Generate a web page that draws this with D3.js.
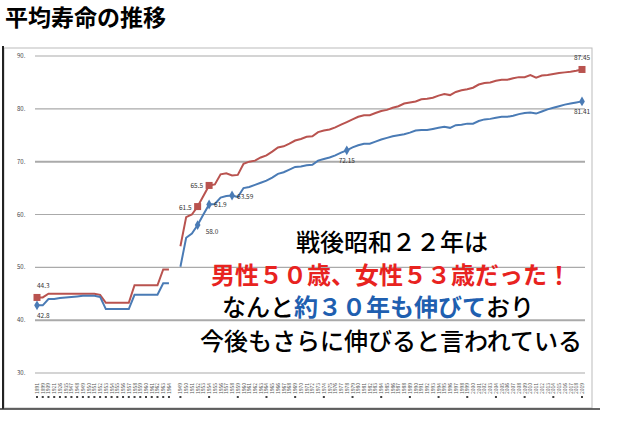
<!DOCTYPE html>
<html>
<head>
<meta charset="utf-8">
<script src="https://cdn.jsdelivr.net/npm/d3@7"></script>
<style>
  body { margin: 0; background: #fff; }
  svg { display: block; font-family: "Noto Sans CJK JP", "Noto Sans", sans-serif; }
</style>
</head>
<body>
<div id="wrapper"></div>
<script>
// pre-war (slots 0-23) and post-war (slots 25-95) life expectancy
const preWarYears = ["1891","1899","1909","1921","1926","1935","1947","1948","1949","1950","1951","1952","1953","1954","1955","1956","1957","1958","1959","1960","1961","1962","1963","1964"]
const femalePre = [44.3,44.3,45,45,45,45,45,45,45,45,45,44.8,43.3,43.3,43.3,43.3,43.3,46.6,46.6,46.6,46.6,46.6,49.6,49.6]
const malePre = [42.8,42.8,44,44,44.2,44.3,44.4,44.5,44.6,44.6,44.6,44.4,42.1,42.1,42.1,42.1,42.1,44.8,44.8,44.8,44.8,44.8,47,47]

const postWarYears = d3.range(1949, 2020).map(String)
const femalePost = [54.0,59.5,60.0,61.5,63.5,65.5,65.7,67.6,67.8,67.4,67.5,69.6,70.0,70.2,70.8,71.2,71.9,72.7,72.9,73.4,74.0,74.3,74.7,74.8,75.6,75.9,76.1,76.5,77.0,77.5,78.0,78.5,78.8,78.8,79.2,79.6,79.8,80.2,80.5,81.0,81.2,81.4,81.8,81.9,82.1,82.5,82.8,82.6,83.2,83.5,83.7,84.0,84.6,84.9,85.0,85.3,85.5,85.5,85.8,86.0,86.0,86.4,85.9,86.3,86.4,86.6,86.8,86.9,87.0,87.2,87.45]
const malePost = [50.1,55.6,56.4,58.0,60.0,61.9,62.0,63.2,63.5,63.59,63.3,65.0,65.2,65.6,66.0,66.4,67.0,67.7,68.0,68.5,69.0,69.1,69.3,69.4,70.2,70.5,70.8,71.2,71.7,72.15,72.7,73.1,73.4,73.4,73.8,74.2,74.5,74.8,75.0,75.2,75.5,75.9,76.0,76.0,76.2,76.4,76.6,76.4,76.9,77.0,77.2,77.2,77.7,78.0,78.1,78.3,78.5,78.5,78.7,79.0,79.2,79.3,79.1,79.5,79.9,80.2,80.5,80.8,81.0,81.2,81.41]

const yTicks = [30, 40, 50, 60, 70, 80, 90]

// labelled points: [series, slot, text, dx, dy, anchor]
const callouts = [
  ["f", 0, "44.3", 0, -9, "start"],
  ["m", 0, "42.8", 0, 13, "start"],
  ["f", 28, "61.5", -6, 3, "end"],
  ["f", 30, "65.5", -6, 3, "end"],
  ["m", 28, "58.0", 8, 9, "start"],
  ["m", 30, "61.9", 5, 3, "start"],
  ["m", 34, "63.59", 5, 3, "start"],
  ["m", 54, "72.15", 0, 13, "middle"],
  ["f", 95, "87.45", 0, -9, "middle"],
  ["m", 95, "81.41", 0, 13, "middle"],
]

const width = 640
const height = 427

const svg = d3.select("#wrapper").append("svg")
  .attr("width", width).attr("height", height)

// title
svg.append("text").attr("x", 5).attr("y", 26)
  .attr("font-size", 23).attr("font-weight", "bold")
  .text("平均寿命の推移")

// frame
svg.append("rect").attr("x", 4).attr("y", 48).attr("width", 588).attr("height", 360)
  .attr("fill", "none").attr("stroke", "#bbb")
svg.append("line").attr("x1", 3).attr("x2", 3).attr("y1", 46).attr("y2", 409)
  .attr("stroke", "#222").attr("stroke-width", 2)
svg.append("line").attr("x1", 0).attr("x2", 600).attr("y1", 409).attr("y2", 409)
  .attr("stroke", "#333").attr("stroke-width", 1.5)

const xScale = d3.scaleLinear().domain([0, 95]).range([37, 582])
const yScale = d3.scaleLinear().domain([30, 90]).range([373, 56])

// gridlines + y labels
svg.append("g").selectAll("line").data(yTicks).join("line")
  .attr("x1", 35).attr("x2", 585)
  .attr("y1", (d) => yScale(d)).attr("y2", (d) => yScale(d))
  .attr("stroke", "#aaa").attr("stroke-width", (d) => (d === 40 || d === 70 ? 2 : 1.2))
svg.append("g").selectAll("text").data(yTicks).join("text")
  .attr("x", 17).attr("y", (d) => yScale(d) + 2)
  .attr("font-size", 6).attr("fill", "#444")
  .text((d) => d + ".")

// x tick labels (tiny, rotated) and tick dots
const slots = preWarYears.map((y, i) => ({ slot: i, year: y }))
  .concat(postWarYears.map((y, i) => ({ slot: i + 25, year: y })))
svg.append("g").selectAll("text").data(slots).join("text")
  .attr("transform", (d) => `translate(${xScale(d.slot) + 2},${394}) rotate(-90)`)
  .attr("font-size", 5).attr("fill", "#555")
  .text((d) => d.year)
svg.append("g").selectAll("rect")
  .data(slots.filter((d) => d.slot < 24 || (d.slot - 25) % 5 === 0))
  .join("rect")
  .attr("x", (d) => xScale(d.slot) - 1).attr("y", 396).attr("width", 2).attr("height", 2)
  .attr("fill", "#444")

// build series
const toPoints = (pre, post) => [
  pre.map((v, i) => ({ slot: i, v })),
  post.map((v, i) => ({ slot: i + 25, v })),
]
const series = {
  f: { color: "#b9534f", parts: toPoints(femalePre, femalePost) },
  m: { color: "#4a7bb5", parts: toPoints(malePre, malePost) },
}

const lineGenerator = d3.line()
  .x((d) => xScale(d.slot))
  .y((d) => yScale(d.v))

Object.values(series).forEach((s) => {
  s.parts.forEach((part) => {
    svg.append("path").attr("d", lineGenerator(part))
      .attr("fill", "none").attr("stroke", s.color).attr("stroke-width", 2)
  })
})

// markers and callouts
const valueAt = (key, slot) => {
  const all = series[key].parts.flat()
  return all.find((d) => d.slot === slot).v
}
callouts.forEach(([key, slot, label, dx, dy, anchor]) => {
  const x = xScale(slot)
  const y = yScale(valueAt(key, slot))
  if (key === "f") {
    svg.append("rect").attr("x", x - 3.5).attr("y", y - 3.5).attr("width", 7).attr("height", 7)
      .attr("fill", "#b9534f")
  } else {
    svg.append("path").attr("d", d3.symbol(d3.symbolDiamond, 28)())
      .attr("transform", `translate(${x},${y})`).attr("fill", "#4a7bb5")
  }
  svg.append("text").attr("x", x + dx).attr("y", y + dy)
    .attr("text-anchor", anchor).attr("font-size", 6.5).attr("fill", "#333")
    .text(label)
})

// overlay message
const msg = svg.append("g").attr("text-anchor", "middle").attr("font-size", 24).attr("font-weight", 500)
msg.append("text").attr("x", 392).attr("y", 251).text("戦後昭和２２年は")
msg.append("text").attr("x", 391).attr("y", 284).attr("fill", "#e8231f").attr("font-weight", "bold")
  .text("男性５０歳、女性５３歳だった！")
const l3 = msg.append("text").attr("x", 378).attr("y", 316)
l3.append("tspan").text("なんと")
l3.append("tspan").attr("fill", "#1f5fb0").attr("font-weight", "bold").text("約３０年も伸びて")
l3.append("tspan").text("おり")
msg.append("text").attr("x", 391).attr("y", 350).text("今後もさらに伸びると言われている")
</script>
</body>
</html>
